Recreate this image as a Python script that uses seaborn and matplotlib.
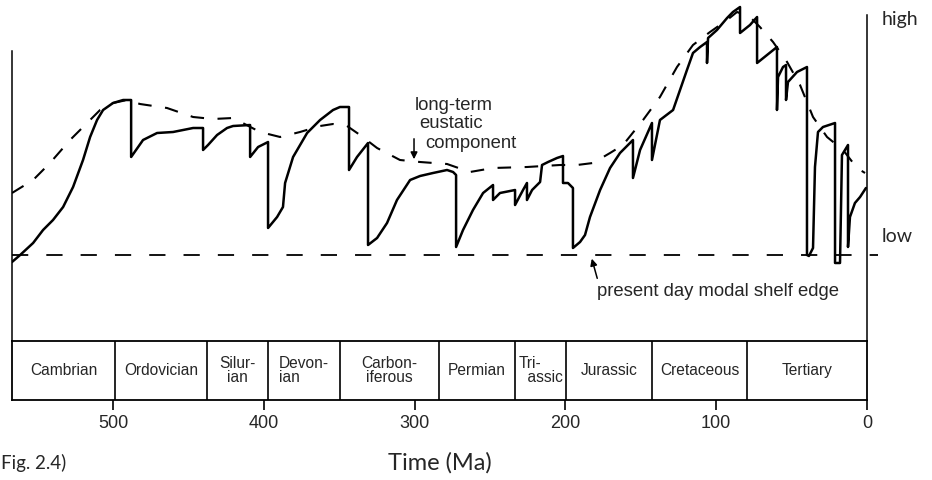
import matplotlib
matplotlib.use('Agg')
import matplotlib.pyplot as plt
import seaborn as sns

# Sea level curve (Hallam-type), time in Ma, level in relative units (0 = present day modal shelf edge)
solid_age = [567.0, 561.6, 553.0, 546.4, 539.8, 533.1, 526.5, 519.9, 515.2, 510.6, 506.6, 500.0, 493.3, 488.0,
             488.0, 480.1, 470.8, 460.2, 446.9, 440.3,
             440.3, 437.0, 431.0, 424.4, 420.4, 409.1,
             409.1, 403.8, 397.2,
             397.2, 391.2, 387.3, 385.9, 380.6, 371.3, 362.7, 354.1, 349.5, 343.5,
             343.5, 338.2, 330.9,
             330.9, 324.9, 318.3, 311.7, 303.0, 296.4, 287.8, 278.5, 274.5, 272.5,
             272.5, 267.9, 261.3, 254.6, 248.0,
             248.0, 243.4, 233.4,
             233.4, 228.1, 225.5,
             225.5, 222.1, 216.8, 215.5, 211.5, 205.6, 201.6,
             201.6, 198.3, 195.0,
             195.0, 190.3, 187.0, 183.7, 177.0, 170.4, 163.8, 155.2,
             155.2, 150.5, 142.6,
             142.6, 137.3, 128.6, 124.0, 119.4, 115.4, 110.7, 106.1,
             106.1, 105.4, 99.5, 92.8, 88.9, 84.2,
             84.2, 77.6, 72.9,
             72.9, 66.3, 59.7,
             59.7, 59.0, 55.7, 53.7,
             53.7, 52.4, 46.4, 39.8,
             39.8, 38.5, 35.8, 34.5, 32.5, 29.2, 21.2,
             21.2, 17.9, 16.6, 12.6,
             12.6, 11.3, 8.0, 4.6, 0.7]
solid_level = [-7, 0, 12, 25, 35, 48, 68, 95, 118, 135, 145, 152, 155, 155,
               98, 115, 122, 123, 127, 127,
               105, 110, 120, 127, 129, 130,
               98, 108, 113,
               27, 38, 48, 72, 98, 122, 135, 145, 148, 148,
               85, 98, 112,
               10, 17, 32, 55, 75, 79, 82, 85, 83, 80,
               8, 25, 45, 62, 70,
               55, 62, 65,
               50, 65, 72,
               55, 65, 73, 90, 93, 97, 99,
               72, 72, 67,
               7, 13, 20, 38, 65, 87, 102, 115,
               77, 105, 132,
               95, 135, 145, 165, 185, 202, 208, 213,
               192, 217, 225, 237, 243, 248,
               222, 230, 238,
               192, 200, 208,
               145, 178, 188, 190,
               155, 173, 183, 188,
               0, -1, 7, 88, 123, 128, 132,
               -8, -8, 100, 110,
               8, 38, 52, 58, 67]

# long-term eustatic component
trend_age = [567.0, 553.0, 541.8, 528.5, 517.2, 508.6, 500.0, 490.7, 482.1, 464.2, 446.9, 433.7, 420.4,
             402.5, 389.2, 376.0, 362.7, 354.1, 344.8, 336.2, 324.9, 309.7, 296.4, 278.5, 263.3,
             248.0, 225.5, 203.6, 192.3, 181.7, 170.4, 161.8, 148.5, 137.3, 126.0, 115.4, 104.1,
             92.8, 86.2, 77.6, 71.0, 62.3, 53.0, 44.4, 35.8, 26.5, 15.9, 6.6, 1.3]
trend_level = [62, 75, 92, 115, 132, 145, 152, 155, 151, 147, 138, 136, 137,
               123, 118, 123, 129, 131, 129, 120, 107, 95, 93, 91, 83,
               87, 88, 90, 90, 92, 102, 110, 135, 158, 188, 210, 223,
               235, 243, 238, 228, 213, 193, 170, 138, 118, 105, 87, 82]

shelf_level = 0

# periods (boundaries in Ma, oldest first)
period_names = ['Cambrian', 'Ordovician', 'Silur-\nian', 'Devon-\nian', 'Carbon-\niferous',
                'Permian', 'Tri-\n  assic', 'Jurassic', 'Cretaceous', 'Tertiary']
period_align = ['center', 'center', 'center', 'left', 'center',
                'center', 'left', 'center', 'center', 'center']
period_bounds = [567.0, 498.7, 437.7, 397.2, 349.5, 283.8, 233.4, 199.6, 142.6, 79.6, 0.0]
tick_values = [500, 400, 300, 200, 100, 0]

sns.set_style('white')
plt.rcParams['font.family'] = ['Liberation Sans', 'DejaVu Sans']

fig = plt.figure(figsize=(9.32, 4.8), dpi=100)
ax = fig.add_axes([12 / 932, 139 / 480, 855 / 932, 341 / 480])
strip = fig.add_axes([12 / 932, 80 / 480, 855 / 932, 59 / 480])

sns.lineplot(x=solid_age, y=solid_level, sort=False, estimator=None, ax=ax,
             color='black', lw=1.8)
sns.lineplot(x=trend_age, y=trend_level, sort=False, estimator=None, ax=ax,
             color='black', lw=1.5, linestyle=(0, (6.5, 6.5)))
ax.axhline(shelf_level, xmin=0, xmax=1.013, color='black', lw=1.3,
           linestyle=(0, (9, 10)), clip_on=False)

ax.set_xlim(567, 0)
ax.set_ylim(-86, 255)
ax.set_xticks([])
ax.set_yticks([])
ax.set_xlabel('')
ax.set_ylabel('')
ax.spines['top'].set_visible(False)
ax.spines['bottom'].set_visible(False)
for side in ['left', 'right']:
    ax.spines[side].set_color('black')
    ax.spines[side].set_linewidth(1.1)
ax.spines['left'].set_bounds(-86, 204)
ax.spines['right'].set_bounds(-86, 240)

# annotations
ax.text(299.7, 150, 'long-term', fontsize=13.3, va='center', ha='left')
ax.text(297.1, 131, 'eustatic', fontsize=13.3, va='center', ha='left')
ax.text(293.1, 112, 'component', fontsize=13.3, va='center', ha='left')
ax.annotate('', xy=(300.4, 93), xytext=(300.4, 119),
            arrowprops=dict(arrowstyle='-|>', color='black', lw=1.1,
                            mutation_scale=10))
ax.text(179.0, -37, 'present day modal shelf edge', fontsize=13.3, va='center', ha='left')
ax.annotate('', xy=(183.0, -1), xytext=(178.4, -26),
            arrowprops=dict(arrowstyle='-|>', color='black', lw=1.1,
                            mutation_scale=10))

# period strip
strip.set_xlim(567, 0)
strip.set_ylim(0, 1)
for b in period_bounds[1:-1]:
    strip.axvline(b, color='black', lw=1.2)
for name, align, start, end in zip(period_names, period_align,
                                   period_bounds[:-1], period_bounds[1:]):
    strip.text((start + end) / 2, 0.5, name, ha='center', va='center',
               fontsize=11.2, linespacing=0.95, multialignment=align)
for side in strip.spines.values():
    side.set_color('black')
    side.set_linewidth(1.3)
strip.set_yticks([])
strip.set_xticks(tick_values)
strip.set_xticklabels([str(t) for t in tick_values])
strip.tick_params(axis='x', direction='out', length=7.5, width=1.2,
                  labelsize=13, pad=3, bottom=True, color='black')

# side labels and caption
calibri_like = ['Lato', 'DejaVu Sans']
fig.text(882 / 932, 1 - 20 / 480, 'high', fontsize=14, family=calibri_like,
         ha='left', va='center')
fig.text(882 / 932, 1 - 237 / 480, 'low', fontsize=14, family=calibri_like,
         ha='left', va='center')
fig.text(440 / 932, 1 - 463 / 480, 'Time (Ma)', fontsize=17, family=calibri_like,
         ha='center', va='center')
fig.text(1 / 932, 1 - 463 / 480, 'Fig. 2.4)', fontsize=13.5, family=calibri_like,
         ha='left', va='center')

fig.savefig('out.png', dpi=100)
plt.close(fig)
